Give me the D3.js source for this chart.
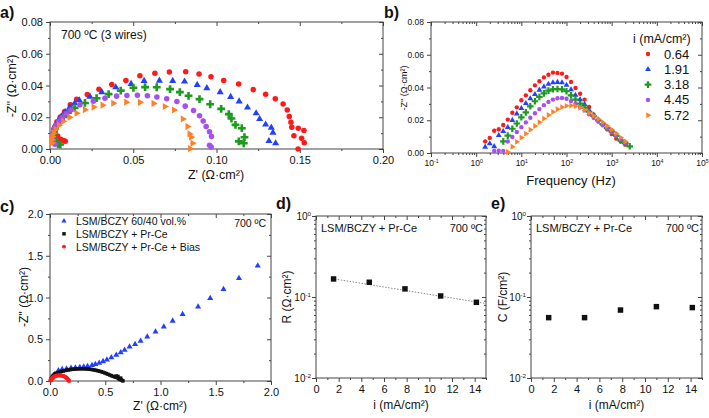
<!DOCTYPE html>
<html><head><meta charset="utf-8">
<script src="https://cdn.jsdelivr.net/npm/d3@7"></script>
<style>body{margin:0;background:#fff}svg{display:block;font-family:"Liberation Sans",Arial,sans-serif}</style>
</head><body><svg width="709" height="418"></svg>
<script>
// ---------- Panel a: Nyquist (Z', -Z'') per current density ----------
const a_064 = [[0.0092,0.0049],[0.0080,0.0054],[0.0064,0.0061],[0.0046,0.0082],[0.0031,0.0109],[0.0030,0.0142],[0.0042,0.0172],[0.0062,0.0202],[0.0088,0.0236],[0.0122,0.0279],[0.0160,0.0314],[0.0224,0.0343],[0.0294,0.0377],[0.0371,0.0406],[0.0456,0.0431],[0.0540,0.0461],[0.0630,0.0477],[0.0717,0.0485],[0.0815,0.0486],[0.0895,0.0473],[0.0967,0.0455],[0.1043,0.0431],[0.1133,0.0410],[0.1221,0.0374],[0.1295,0.0345],[0.1353,0.0316],[0.1400,0.0284],[0.1425,0.0246],[0.1437,0.0205],[0.1447,0.0168],[0.1452,0.0137],[0.1491,0.0131],[0.1525,0.0116],[0.1465,0.0084],[0.1511,0.0067],[0.1527,0.0040],[0.1490,0.0000]];
const a_191 = [[0.0040,0.0044],[0.0028,0.0060],[0.0020,0.0086],[0.0020,0.0110],[0.0026,0.0134],[0.0036,0.0156],[0.0050,0.0180],[0.0068,0.0205],[0.0092,0.0233],[0.0118,0.0262],[0.0148,0.0288],[0.0176,0.0307],[0.0240,0.0330],[0.0311,0.0358],[0.0395,0.0389],[0.0487,0.0410],[0.0565,0.0429],[0.0657,0.0431],[0.0737,0.0429],[0.0808,0.0425],[0.0884,0.0404],[0.0942,0.0383],[0.1022,0.0358],[0.1085,0.0328],[0.1136,0.0300],[0.1186,0.0261],[0.1238,0.0225],[0.1259,0.0189],[0.1295,0.0154],[0.1329,0.0135],[0.1339,0.0103],[0.1315,0.0050],[0.1355,0.0036]];
const a_318 = [[0.0062,0.0028],[0.0048,0.0031],[0.0034,0.0044],[0.0024,0.0068],[0.0024,0.0098],[0.0030,0.0128],[0.0042,0.0153],[0.0060,0.0178],[0.0082,0.0202],[0.0108,0.0228],[0.0148,0.0260],[0.0210,0.0290],[0.0280,0.0320],[0.0352,0.0346],[0.0425,0.0368],[0.0501,0.0386],[0.0571,0.0390],[0.0641,0.0389],[0.0721,0.0377],[0.0780,0.0358],[0.0832,0.0335],[0.0898,0.0314],[0.0962,0.0282],[0.1028,0.0253],[0.1074,0.0220],[0.1090,0.0192],[0.1114,0.0152],[0.1152,0.0131],[0.1168,0.0074],[0.1134,0.0048],[0.1164,0.0036]];
const a_445 = [[0.0030,0.0030],[0.0018,0.0052],[0.0015,0.0078],[0.0018,0.0102],[0.0025,0.0126],[0.0036,0.0150],[0.0052,0.0174],[0.0074,0.0198],[0.0098,0.0222],[0.0125,0.0246],[0.0180,0.0278],[0.0260,0.0301],[0.0330,0.0320],[0.0400,0.0333],[0.0462,0.0337],[0.0525,0.0338],[0.0585,0.0335],[0.0642,0.0328],[0.0701,0.0316],[0.0762,0.0299],[0.0812,0.0270],[0.0862,0.0243],[0.0898,0.0210],[0.0920,0.0176],[0.0938,0.0141],[0.0958,0.0109],[0.0970,0.0078],[0.0958,0.0023],[0.0968,0.0012]];
const a_572 = [[0.0012,0.0038],[0.0012,0.0058],[0.0015,0.0078],[0.0022,0.0100],[0.0034,0.0124],[0.0054,0.0150],[0.0080,0.0175],[0.0118,0.0200],[0.0160,0.0225],[0.0210,0.0248],[0.0262,0.0264],[0.0316,0.0276],[0.0380,0.0288],[0.0458,0.0295],[0.0540,0.0294],[0.0622,0.0287],[0.0690,0.0268],[0.0745,0.0246],[0.0798,0.0189],[0.0826,0.0141],[0.0838,0.0095],[0.0848,0.0074],[0.0856,0.0036],[0.0842,0.0002]];

// ---------- Panel b: -Z'' vs frequency ----------
const bFreq = [1.58,2.00,2.51,3.16,3.98,5.01,6.31,7.94,10.0,12.6,15.8,20.0,25.1,31.6,39.8,50.1,63.1,79.4,100,126,158,200,251,316,398,501,631,794,1000,1260,1580,2000,2510,3160];
const b_064 = [0.0071,0.0092,0.0136,0.0145,0.0171,0.0204,0.0246,0.0279,0.0322,0.0352,0.0383,0.0413,0.0438,0.0462,0.0478,0.0491,0.0489,0.0485,0.0464,0.0434,0.0397,0.0362,0.0326,0.0281,0.0234,0.0200,0.0173,0.0145,0.0116,0.0088,0.0071,0.0051,null,null];
const b_191 = [0.0037,0.0057,0.0040,0.0108,0.0132,0.0157,0.0200,0.0240,0.0273,0.0303,0.0332,0.0358,0.0385,0.0405,0.0421,0.0430,0.0432,0.0430,0.0415,0.0387,0.0354,0.0326,0.0297,0.0261,0.0232,0.0204,0.0179,0.0155,0.0134,0.0110,0.0086,0.0061,null,null];
const b_318 = [null,null,null,null,0.0071,0.0106,0.0148,0.0180,0.0218,0.0248,0.0285,0.0316,0.0342,0.0364,0.0381,0.0389,0.0391,0.0389,0.0377,0.0352,0.0326,0.0301,0.0277,0.0252,0.0226,0.0200,0.0177,0.0153,0.0132,0.0106,0.0077,0.0061,0.0041,null];
const b_445 = [null,null,0.0012,0.0014,0.0013,0.0070,0.0098,0.0128,0.0158,0.0187,0.0215,0.0243,0.0268,0.0292,0.0312,0.0326,0.0334,0.0336,0.0331,0.0318,0.0300,0.0281,0.0260,0.0237,0.0215,0.0193,0.0171,0.0150,0.0128,0.0105,0.0083,0.0062,null,null];
const b_572 = [null,null,null,null,null,0.0006,0.0038,0.0068,0.0094,0.0118,0.0142,0.0165,0.0188,0.0210,0.0232,0.0251,0.0267,0.0280,0.0288,0.0290,0.0286,0.0276,0.0263,0.0246,0.0228,0.0208,0.0187,0.0165,0.0143,0.0119,0.0094,0.0070,null,null];
const currents = ["0.64","1.91","3.18","4.45","5.72"];

// ---------- Panel c ----------
const c_blue = [[0.020,0.040],[0.040,0.080],[0.076,0.125],[0.110,0.140],[0.150,0.148],[0.190,0.155],[0.230,0.160],[0.270,0.165],[0.305,0.170],[0.340,0.178],[0.380,0.188],[0.410,0.200],[0.445,0.215],[0.480,0.235],[0.515,0.255],[0.555,0.280],[0.600,0.310],[0.640,0.340],[0.675,0.370],[0.720,0.410],[0.770,0.440],[0.820,0.480],[0.880,0.530],[0.955,0.590],[1.030,0.650],[1.110,0.720],[1.200,0.800],[1.340,0.890],[1.450,0.990],[1.570,1.100],[1.710,1.230],[1.880,1.380]];
const c_black = [[0.005,0.010],[0.010,0.025],[0.015,0.040],[0.022,0.055],[0.030,0.068],[0.040,0.079],[0.050,0.087],[0.062,0.095],[0.075,0.102],[0.090,0.109],[0.105,0.115],[0.120,0.120],[0.135,0.125],[0.150,0.129],[0.165,0.133],[0.180,0.136],[0.195,0.139],[0.210,0.141],[0.225,0.143],[0.240,0.145],[0.255,0.146],[0.270,0.147],[0.285,0.147],[0.300,0.147],[0.315,0.146],[0.330,0.145],[0.345,0.143],[0.360,0.141],[0.375,0.138],[0.390,0.135],[0.405,0.131],[0.420,0.127],[0.435,0.122],[0.450,0.117],[0.465,0.111],[0.480,0.104],[0.495,0.097],[0.510,0.089],[0.525,0.081],[0.540,0.072],[0.555,0.064],[0.570,0.056],[0.585,0.050],[0.598,0.045],[0.610,0.040],[0.600,0.060],[0.615,0.055],[0.620,0.030],[0.630,0.020],[0.640,0.035],[0.645,0.012],[0.655,0.006],[0.660,0.002]];
const c_red = [[0.005,0.005],[0.008,0.015],[0.012,0.025],[0.018,0.034],[0.025,0.042],[0.033,0.049],[0.042,0.055],[0.052,0.060],[0.062,0.064],[0.072,0.066],[0.082,0.067],[0.092,0.067],[0.102,0.066],[0.112,0.063],[0.122,0.059],[0.131,0.054],[0.139,0.048],[0.146,0.041],[0.152,0.034],[0.158,0.026],[0.163,0.018],[0.167,0.011],[0.170,0.005],[0.172,0.001]];
const cLegend = ["LSM/BCZY 60/40 vol.%","LSM/BCZY + Pr-Ce","LSM/BCZY + Pr-Ce + Bias"];

// ---------- Panels d, e ----------
const iVals = [1.55, 4.70, 7.85, 11.0, 14.15];
const Rvals = [0.167, 0.152, 0.126, 0.103, 0.086];
const Cvals = [0.0556, 0.0556, 0.069, 0.076, 0.074];
const Rfit = [[1.4, 0.169], [15, 0.083]];

// ---------- drawing ----------
const svg = d3.select("svg");
const COL = {red:"#ff1a1a", blue:"#2440ff", green:"#1e9a1e", purple:"#a64ff0", orange:"#ff8126", black:"#111"};
const FR = "#444";

function supLabel(sel) {
  sel.each(function(d){
    const t = d3.select(this); const e = Math.round(Math.log10(d));
    t.text("10"); t.append("tspan").attr("dy","-0.55em").attr("font-size","0.62em").text(e);
  });
}

function axes(g, xs, ys, o) {
  const [x0,x1] = xs.range(), [y0,y1] = ys.range();
  const style = s => { s.select(".domain").remove(); s.selectAll("line").attr("stroke",FR);
    s.selectAll("text").attr("fill","#111").attr("font-size",o.fs).attr("font-family",'"Liberation Sans",Arial,sans-serif'); };
  const bx = g.append("g").attr("transform",`translate(0,${y0})`).call(d3.axisBottom(xs).tickValues(o.xt).tickSize(4).tickPadding(3).tickFormat(o.xf||null)).call(style);
  if (o.xsup) supLabel(bx.selectAll(".tick text"));
  g.append("g").attr("transform",`translate(0,${y0})`).call(d3.axisBottom(xs).tickValues(o.xm).tickSize(2).tickFormat("")).call(style);
  const ly = g.append("g").attr("transform",`translate(${x0},0)`).call(d3.axisLeft(ys).tickValues(o.yt).tickSize(4).tickPadding(o.ypad||3).tickFormat(o.yf||null)).call(style);
  if (o.ysup) supLabel(ly.selectAll(".tick text"));
  g.append("g").attr("transform",`translate(${x0},0)`).call(d3.axisLeft(ys).tickValues(o.ym).tickSize(2).tickFormat("")).call(style);
  // mirrored inward ticks
  g.append("g").attr("transform",`translate(0,${y1})`).call(d3.axisBottom(xs).tickValues(o.xt).tickSize(4).tickFormat("")).call(style);
  g.append("g").attr("transform",`translate(0,${y1})`).call(d3.axisBottom(xs).tickValues(o.xm).tickSize(2).tickFormat("")).call(style);
  g.append("g").attr("transform",`translate(${x1},0)`).call(d3.axisLeft(ys).tickValues(o.yt).tickSize(4).tickFormat("")).call(style);
  g.append("g").attr("transform",`translate(${x1},0)`).call(d3.axisLeft(ys).tickValues(o.ym).tickSize(2).tickFormat("")).call(style);
  g.append("rect").attr("x",x0).attr("y",y1).attr("width",x1-x0).attr("height",y0-y1).attr("fill","none").attr("stroke",FR).attr("stroke-width",1);
}
function text(x,y,s,o={}) {
  const t = svg.append("text").attr("x",x).attr("y",y).attr("font-size",o.fs||12).attr("fill","#111")
    .attr("text-anchor",o.anchor||"start").text(s);
  if (o.bold) t.attr("font-weight","bold");
  if (o.rot) t.attr("transform",`rotate(-90,${x},${y})`);
  return t;
}
function symPath(kind, size) {
  const m = {circle:d3.symbolCircle, tri:d3.symbolTriangle, cross:d3.symbolCross, square:d3.symbolSquare, rtri:d3.symbolTriangle};
  return d3.symbol(m[kind], size)();
}
function marks(g, pts, kind, color, size) {
  g.selectAll(null).data(pts).join("path").attr("d", symPath(kind,size)).attr("fill",color)
    .attr("transform", d => `translate(${d[0]},${d[1]})${kind==="rtri"?" rotate(90)":""}`);
}
const rng = (a,b,s) => d3.range(a, b+s/2, s).map(v => +v.toFixed(6));
const logMinor = (lo,hi) => { const r=[]; for (let e=lo;e<hi;e++) for (let k=2;k<=9;k++) r.push(k*Math.pow(10,e)); return r; };
const series = [["circle",COL.red],["tri",COL.blue],["cross",COL.green],["circle",COL.purple],["rtri",COL.orange]];

// Panel a
{
  const x = d3.scaleLinear().domain([0,0.2]).range([50,383]);
  const y = d3.scaleLinear().domain([0,0.08]).range([149,22]);
  const g = svg.append("g");
  axes(g,x,y,{xt:rng(0,0.2,0.05), xm:rng(0.025,0.175,0.05), yt:rng(0,0.08,0.02), ym:rng(0.01,0.07,0.02),
    xf:d3.format(".2f"), yf:d3.format(".2f"), fs:11});
  [a_064,a_191,a_318,a_445,a_572].forEach((arr,i) => {
    const [k,c] = series[i];
    marks(g, arr.map(d=>[x(d[0]),y(d[1])]), k, c, k==="cross"?34:(k==="circle"?24:22));
  });
  text(61,39,"700 ºC (3 wires)",{fs:12});
  text(216,179,"Z' (Ω·cm²)",{fs:12.5,anchor:"middle"});
  text(16,86,"-Z'' (Ω·cm²)",{fs:12.5,anchor:"middle",rot:true});
  text(0,18,"a)",{fs:16,bold:true});
}
// Panel b
{
  const x = d3.scaleLog().domain([0.1,1e5]).range([431,702]);
  const y = d3.scaleLinear().domain([0,0.08]).range([153,22]);
  const g = svg.append("g");
  axes(g,x,y,{xt:[0.1,1,10,100,1000,1e4,1e5], xm:logMinor(-1,5), yt:rng(0,0.08,0.02), ym:rng(0.01,0.07,0.02),
    yf:d3.format(".2f"), xsup:true, fs:8.5});
  [b_064,b_191,b_318,b_445,b_572].forEach((arr,i) => {
    const [k,c] = series[i];
    const pts = bFreq.map((f,j)=>[f,arr[j]]).filter(d=>d[1]!==null).map(d=>[x(d[0]),y(d[1])]);
    marks(g, pts, k, c, k==="cross"?24:15);
  });
  text(633,43,"i (mA/cm²)",{fs:12.5});
  currents.forEach((s,i) => {
    const yy = 54 + i*15.3;
    const [k,c] = series[i];
    marks(g, [[648,yy]], k, c, k==="cross"?24:15);
    text(664,yy+4.5,s,{fs:13});
  });
  text(571,185,"Frequency (Hz)",{fs:13,anchor:"middle"});
  text(407,88,"-Z'' (Ω·cm²)",{fs:9,anchor:"middle",rot:true});
  text(384,18,"b)",{fs:16,bold:true});
}
// Panel c
{
  const x = d3.scaleLinear().domain([0,2]).range([50,271]);
  const y = d3.scaleLinear().domain([0,2]).range([381,214]);
  const g = svg.append("g");
  axes(g,x,y,{xt:rng(0,2,0.5), xm:rng(0.25,1.75,0.5), yt:rng(0,2,0.5), ym:rng(0.25,1.75,0.5),
    xf:d3.format(".1f"), yf:d3.format(".1f"), fs:11});
  marks(g, c_blue.map(d=>[x(d[0]),y(d[1])]), "tri", COL.blue, 16);
  marks(g, c_black.map(d=>[x(d[0]),y(d[1])]), "square", COL.black, 12);
  marks(g, c_red.map(d=>[x(d[0]),y(d[1])]), "circle", COL.red, 14);
  const lk = [["tri",COL.blue],["square",COL.black],["circle",COL.red]];
  cLegend.forEach((s,i) => {
    const yy = 221 + i*12.8;
    marks(g, [[64,yy]], lk[i][0], lk[i][1], 12);
    text(76,yy+4,s,{fs:10.5});
  });
  text(266,227,"700 ºC",{fs:10.5,anchor:"end"});
  text(160,410,"Z' (Ω·cm²)",{fs:12,anchor:"middle"});
  text(28,297,"-Z'' (Ω·cm²)",{fs:12,anchor:"middle",rot:true});
  text(0,212,"c)",{fs:16,bold:true});
}
// Panels d and e
function logPanel(x0,x1,vals,label,ylabX,fit) {
  const x = d3.scaleLinear().domain([0,15]).range([x0,x1]);
  const y = d3.scaleLog().domain([0.01,1]).range([378,216]);
  const g = svg.append("g");
  axes(g,x,y,{xt:rng(0,14,2), xm:rng(1,15,2), yt:[0.01,0.1,1], ym:logMinor(-2,0),
    xf:d3.format("d"), ysup:true, ypad:1, fs:10});
  g.selectAll(".tick text").filter(function(){ return d3.select(this).select("tspan").empty(); }).attr("font-size",11);
  if (fit) g.append("path").attr("d", d3.line().x(d=>x(d[0])).y(d=>y(d[1]))(fit))
    .attr("stroke","#888").attr("stroke-width",1).attr("stroke-dasharray","1.5,1.5").attr("fill","none");
  marks(g, iVals.map((v,i)=>[x(v),y(vals[i])]), "square", COL.black, 30);
  text(x0+5,232,"LSM/BCZY + Pr-Ce",{fs:11});
  text(x1-3,232,"700 ºC",{fs:11,anchor:"end"});
  text((x0+x1)/2,409,"i (mA/cm²)",{fs:12,anchor:"middle"});
  text(ylabX,297,label,{fs:12,anchor:"middle",rot:true});
}
logPanel(316,486,Rvals,"R (Ω·cm²)",291,Rfit);
text(276,209,"d)",{fs:16,bold:true});
logPanel(531,702,Cvals,"C (F/cm²)",507,null);
text(491,209,"e)",{fs:16,bold:true});
</script></body></html>
